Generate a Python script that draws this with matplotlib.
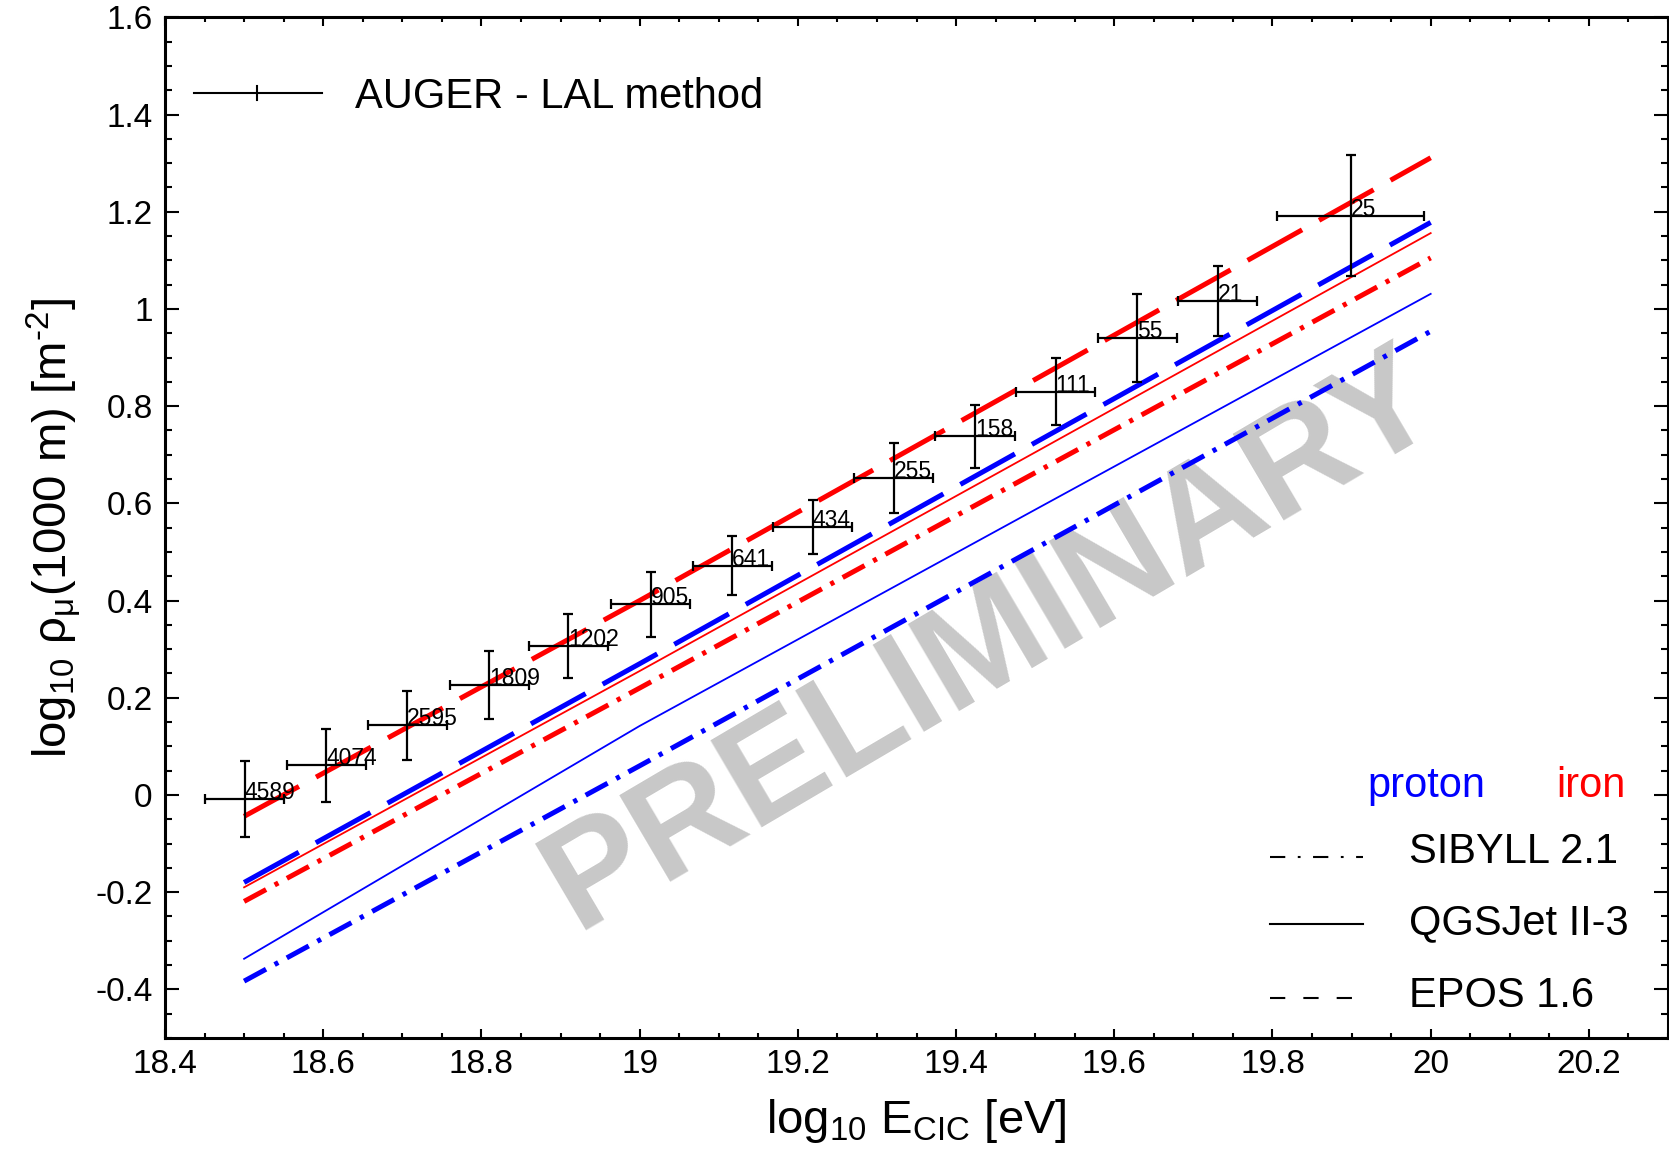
import numpy as np
import matplotlib
matplotlib.use('Agg')
import matplotlib.pyplot as plt
from matplotlib.ticker import FixedLocator, FormatStrFormatter

plt.rcParams['font.family'] = ['Liberation Sans', 'DejaVu Sans']
plt.rcParams['mathtext.fontset'] = 'custom'
plt.rcParams['mathtext.rm'] = 'Liberation Sans'
plt.rcParams['mathtext.it'] = 'Liberation Sans:italic'
plt.rcParams['mathtext.default'] = 'regular'
plt.rcParams['axes.unicode_minus'] = False
plt.rcParams['lines.scale_dashes'] = False

# AUGER LAL method: muon density at 1000 m per energy bin
log_e = [18.501, 18.604, 18.706, 18.81, 18.91, 19.014, 19.117, 19.219,
         19.321, 19.424, 19.526, 19.629, 19.731, 19.899]
log_e_err = [0.05, 0.05, 0.05, 0.05, 0.05, 0.05, 0.05, 0.05,
             0.05, 0.05, 0.05, 0.05, 0.05, 0.093]
log_rho = [-0.008, 0.061, 0.143, 0.227, 0.307, 0.392, 0.472, 0.551,
           0.652, 0.738, 0.830, 0.940, 1.017, 1.192]
log_rho_err = [0.078, 0.075, 0.071, 0.070, 0.066, 0.066, 0.060, 0.056,
               0.072, 0.065, 0.069, 0.090, 0.072, 0.125]
n_events = [4589, 4074, 2595, 1809, 1202, 905, 641, 434,
            255, 158, 111, 55, 21, 25]

# simulation predictions
sim_log_e = [18.5, 19.0, 19.5, 20.0]
sibyll_p = [-0.383, 0.060, 0.507, 0.954]
sibyll_fe = [-0.219, 0.220, 0.663, 1.105]
qgsjet_p = [-0.337, 0.142, 0.587, 1.031]
qgsjet_fe = [-0.190, 0.255, 0.705, 1.156]
epos_p = [-0.180, 0.270, 0.725, 1.178]
epos_fe = [-0.044, 0.400, 0.855, 1.311]

x_ticks = [18.4, 18.6, 18.8, 19.0, 19.2, 19.4, 19.6, 19.8, 20.0, 20.2]
y_ticks = [-0.4, -0.2, 0.0, 0.2, 0.4, 0.6, 0.8, 1.0, 1.2, 1.4, 1.6]

DASH = (0, (45, 14))
DASHDOT = (0, (18, 7, 3, 7))

fig = plt.figure(figsize=(16.69, 11.62), dpi=100)
ax = fig.add_axes([165 / 1669, 1 - 1038 / 1162, 1503 / 1669, 1020.7 / 1162])

ax.text(19.445, 0.315, 'PRELIMINARY', color='#c8c8c8', fontsize=106,
        fontweight='bold', rotation=30.5, rotation_mode='anchor',
        ha='center', va='center', zorder=0)

ax.plot(sim_log_e, sibyll_p, color='blue', lw=3.6, ls=DASHDOT, zorder=2)
ax.plot(sim_log_e, sibyll_fe, color='red', lw=3.6, ls=DASHDOT, zorder=2)
ax.plot(sim_log_e, qgsjet_p, color='blue', lw=1.3, zorder=2)
ax.plot(sim_log_e, qgsjet_fe, color='red', lw=1.3, zorder=2)
ax.plot(sim_log_e, epos_p, color='blue', lw=3.6, ls=DASH, zorder=2)
ax.plot(sim_log_e, epos_fe, color='red', lw=3.6, ls=DASH, zorder=2)

ax.errorbar(log_e, log_rho, xerr=log_e_err, yerr=log_rho_err, fmt='none',
            ecolor='black', elinewidth=1.6, capsize=3.3, capthick=1.6, zorder=3)
for xe, ye, n in zip(log_e, log_rho, n_events):
    ax.text(xe, ye, str(n), fontsize=16.5, ha='left', va='baseline', zorder=4)

# data legend, top left
ax.plot([0.0193, 0.1045], [0.9258, 0.9258], color='black', lw=1.5,
        transform=ax.transAxes)
ax.plot([0.0612, 0.0612], [0.9185, 0.9331], color='black', lw=1.5,
        transform=ax.transAxes)
ax.text(0.1264, 0.9111, 'AUGER - LAL method', fontsize=30,
        transform=ax.transAxes, va='baseline')

# model legend, bottom right
ax.text(0.7997, 0.2361, 'proton', color='blue', fontsize=30,
        transform=ax.transAxes, va='baseline')
ax.text(0.9255, 0.2361, 'iron', color='red', fontsize=30,
        transform=ax.transAxes, va='baseline')
models = [('SIBYLL 2.1', (0, (11, 9, 2, 9)), 0.1773, 0.1715),
          ('QGSJet II-3', '-', 0.1117, 0.1019),
          ('EPOS 1.6', (0, (11, 13)), 0.0392, 0.0304)]
for name, style, yl, yt in models:
    ax.plot([0.7352, 0.7971], [yl, yl], color='black', lw=1.5, ls=style,
            transform=ax.transAxes)
    ax.text(0.8277, yt, name, fontsize=30, transform=ax.transAxes,
            va='baseline')

ax.set_xlim(18.4, 20.3)
ax.set_ylim(-0.5, 1.6)
ax.xaxis.set_major_locator(FixedLocator(x_ticks))
ax.yaxis.set_major_locator(FixedLocator(y_ticks))
ax.xaxis.set_minor_locator(FixedLocator(np.arange(18.4, 20.31, 0.05)))
ax.yaxis.set_minor_locator(FixedLocator(np.arange(-0.5, 1.61, 0.05)))
ax.xaxis.set_major_formatter(FormatStrFormatter('%g'))
ax.yaxis.set_major_formatter(FormatStrFormatter('%g'))

ax.tick_params(which='both', direction='in', top=True, right=True,
               labelsize=24, width=1.5)
ax.tick_params(axis='x', which='major', length=6.7, pad=8)
ax.tick_params(axis='x', which='minor', length=3.6)
ax.tick_params(axis='y', which='major', length=10, pad=9)
ax.tick_params(axis='y', which='minor', length=5)
for sp in ax.spines.values():
    sp.set_linewidth(2.2)

ax.set_xlabel(r'log$_{10}$ E$_{CIC}$ [eV]', fontsize=34)
ax.set_ylabel('log$_{10}$ ρ$_{μ}$(1000 m) [m$^{\u2010 2}$]', fontsize=34)
ax.xaxis.set_label_coords(0.5, -0.058)
ax.yaxis.set_label_coords(-0.0546, 0.5)

fig.savefig('out.png', dpi=100)
